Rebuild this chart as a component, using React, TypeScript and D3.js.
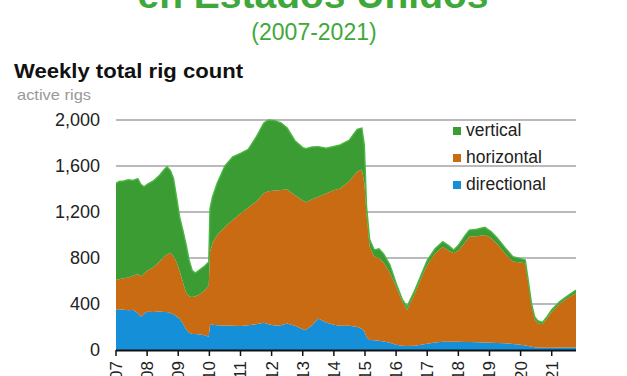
import React from "react";
import * as d3 from "d3";

const dates = [
  2007.0, 2007.1, 2007.25, 2007.4, 2007.55, 2007.7, 2007.8, 2007.9,
  2008.0, 2008.2, 2008.4, 2008.55, 2008.64, 2008.75, 2008.85, 2008.95,
  2009.05, 2009.15, 2009.25, 2009.35, 2009.45, 2009.55, 2009.7, 2009.85, 2009.98,
  2010.02, 2010.1, 2010.25, 2010.5, 2010.75,
  2011.0, 2011.25, 2011.5, 2011.75, 2011.9,
  2012.1, 2012.3, 2012.5, 2012.75,
  2013.0, 2013.1, 2013.3, 2013.5, 2013.75,
  2014.0, 2014.2, 2014.5, 2014.75, 2014.9, 2014.98,
  2015.05, 2015.15, 2015.3, 2015.45, 2015.6, 2015.8,
  2016.0, 2016.2, 2016.35, 2016.6, 2016.8,
  2017.0, 2017.25, 2017.5, 2017.7, 2017.85,
  2018.0, 2018.2, 2018.35, 2018.6, 2018.85,
  2019.05, 2019.25, 2019.5, 2019.75,
  2020.0, 2020.15, 2020.25, 2020.35, 2020.45, 2020.55, 2020.7, 2020.85,
  2021.0, 2021.25, 2021.5, 2021.78,
];

const directional = [
  348, 355, 350, 345, 350, 320, 290, 315,
  333, 330, 335, 330, 330, 320, 310, 290,
  270, 230, 180, 150, 140, 140, 135, 128, 116,
  220, 220, 215, 212, 210,
  208, 215, 225, 237, 225,
  212, 215, 230, 210,
  180, 174, 215, 275, 240,
  220, 210, 210, 200, 185, 160,
  110, 87, 85, 80, 75, 62,
  45, 38, 35, 38, 45,
  55, 65, 72, 72, 72,
  72, 70, 70, 68, 65,
  62, 60, 58, 52,
  45, 40, 35, 29, 25, 22, 20, 20,
  20, 22, 22, 22,
];

const horizontal = [
  261, 260, 275, 285, 295, 340, 350, 350,
  357, 390, 435, 480, 500, 525, 505, 470,
  410, 360, 320, 315, 320, 328, 350, 392, 444,
  630, 710, 785, 858, 920,
  980, 1025, 1065, 1125, 1155,
  1176, 1177, 1165, 1135,
  1120, 1111, 1095, 1058, 1120,
  1170, 1195, 1260, 1350, 1385, 1290,
  1070, 811, 727, 720, 685, 608,
  506, 382, 313, 452, 575,
  685, 775, 826, 788, 769,
  793, 860, 915, 922, 935,
  913, 860, 782, 718,
  715, 714, 545, 361, 245, 210, 205, 255,
  310, 378, 428, 471,
];

const vertical = [
  841, 850, 845, 850, 830, 830, 800, 755,
  750, 750, 750, 760, 764, 715, 675, 560,
  470, 450, 420, 315, 230, 201, 215, 210, 205,
  380, 400, 450, 530, 550,
  522, 505, 560, 613, 620,
  607, 583, 535, 475,
  460, 465, 455, 435, 395,
  380, 378, 356, 369, 360, 330,
  70, 62, 58, 80, 75, 70,
  29, 20, 29, 30, 30,
  40, 40, 44, 45, 29,
  45, 60, 58, 60, 67,
  55, 55, 50, 42,
  35, 29, 20, 16, 20, 23, 15, 15,
  20, 20, 20, 29,
];

const yTicks = [0, 400, 800, 1200, 1600, 2000];
const yearTicks = [2007, 2008, 2009, 2010, 2011, 2012, 2013, 2014, 2015, 2016, 2017, 2018, 2019, 2020, 2021];

const seriesKeys = ["directional", "horizontal", "vertical"];
const seriesColors: Record<string, string> = {
  directional: "#1590d8",
  horizontal: "#c96b12",
  vertical: "#3b9c34",
};
const legendOrder = ["vertical", "horizontal", "directional"];

const FONT = "'Liberation Sans', Arial, Helvetica, sans-serif";

export default function App() {
  const rows = dates.map((t, i) => ({
    t,
    directional: directional[i],
    horizontal: horizontal[i],
    vertical: vertical[i],
  }));

  const x = d3.scaleLinear().domain([2007, 2021.78]).range([116, 576]);
  const y = d3.scaleLinear().domain([0, 2000]).range([350, 120]);

  const stacked = d3.stack<any>().keys(seriesKeys)(rows);

  const area = d3
    .area<any>()
    .x((d) => x(d.data.t))
    .y0((d) => y(d[0]))
    .y1((d) => y(d[1]));

  const topLine = d3
    .line<any>()
    .x((d) => x(d.data.t))
    .y((d) => y(d[1]));

  const [x0, x1] = x.range();

  return (
    <svg
      width={627}
      height={376}
      style={{ position: "absolute", left: 0, top: 0, background: "#fff" }}
      fontFamily={FONT}
    >
      <rect x={0} y={0} width={627} height={376} fill="#fff" />
      <text x={313} y={8} textAnchor="middle" fontSize={39} fontWeight="bold" fill="#3ea83a">
        en Estados Unidos
      </text>
      <text x={314} y={40} textAnchor="middle" fontSize={23} fill="#3ea83a">
        (2007-2021)
      </text>
      <text x={14} y={78} fontSize={21} fontWeight="bold" fill="#111" textLength={229} lengthAdjust="spacingAndGlyphs">
        Weekly total rig count
      </text>
      <text x={17} y={100} fontSize={15} fill="#999" textLength={74} lengthAdjust="spacingAndGlyphs">
        active rigs
      </text>

      {yTicks.map((v) => (
        <g key={v}>
          {v > 0 && (
            <line x1={x0} x2={x1} y1={y(v)} y2={y(v)} stroke="#a3a3a3" strokeWidth={1.5} />
          )}
          <text x={100} y={y(v)} dy="0.35em" textAnchor="end" fontSize={18} fill="#222">
            {d3.format(",")(v)}
          </text>
        </g>
      ))}

      {stacked.map((s) => (
        <path key={s.key} d={area(s) || ""} fill={seriesColors[s.key]} />
      ))}
      <path
        d={topLine(stacked[2]) || ""}
        fill="none"
        stroke="#4cb644"
        strokeWidth={1.4}
      />

      <line x1={x0} x2={x1} y1={350.5} y2={350.5} stroke="#111" strokeWidth={2} />
      {yearTicks.map((yr) => (
        <g key={yr}>
          <line x1={x(yr)} x2={x(yr)} y1={350} y2={356} stroke="#111" strokeWidth={1.5} />
          <text
            transform={`translate(${x(yr)},361) rotate(-90)`}
            textAnchor="end"
            dy="0.35em"
            fontSize={17}
            fill="#222"
          >
            {String(yr).slice(2)}
          </text>
        </g>
      ))}

      {legendOrder.map((k, i) => (
        <g key={k}>
          <rect x={453} y={127 + i * 27} width={8} height={8} fill={seriesColors[k]} />
          <text x={466} y={136 + i * 27} fontSize={17.5} fill="#222">
            {k}
          </text>
        </g>
      ))}
    </svg>
  );
}
